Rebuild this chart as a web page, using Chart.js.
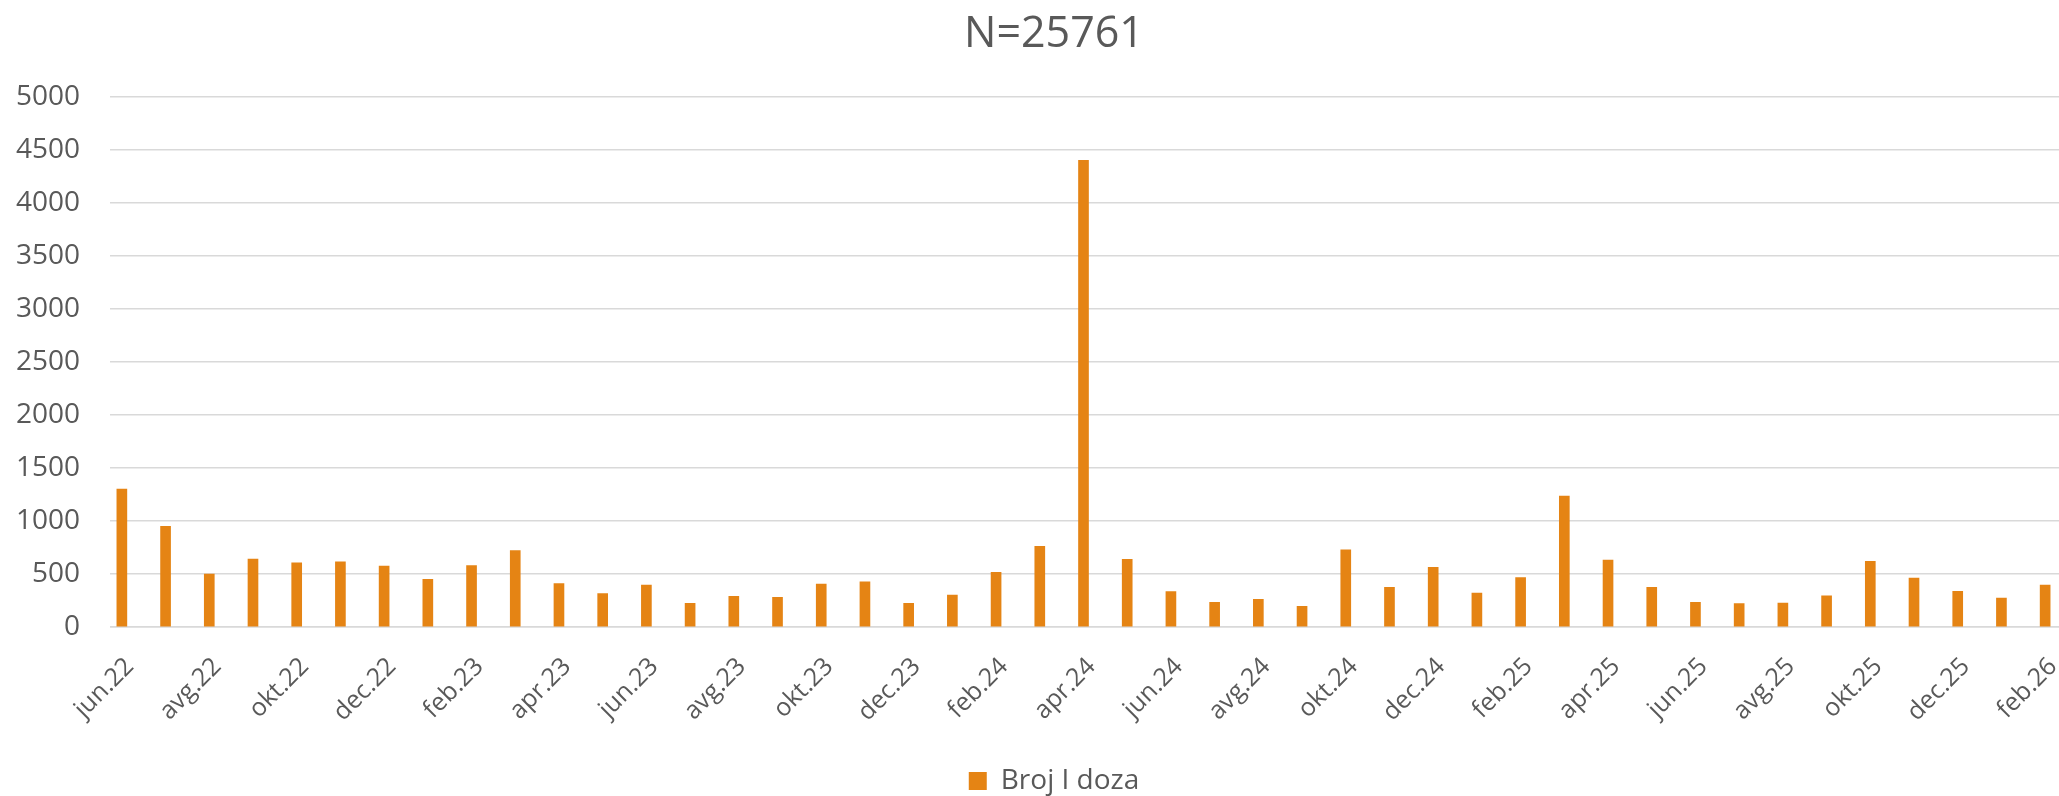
<!DOCTYPE html>
<html>
<head>
<meta charset="utf-8">
<script src="https://cdn.jsdelivr.net/npm/chart.js@4.4.1/dist/chart.umd.min.js"></script>
<style>
  html, body { margin: 0; padding: 0; background: #fff; overflow: hidden; }
  #wrap { width: 2108px; height: 805px; }
</style>
</head>
<body>
<div id="wrap"><canvas id="chart1" width="2108" height="805"></canvas></div>
<script>
// mjeseci jun.22 - feb.26
const months = [
  "jun.22", "jul.22", "avg.22", "sep.22", "okt.22", "nov.22", "dec.22",
  "jan.23", "feb.23", "mar.23", "apr.23", "maj.23", "jun.23", "jul.23", "avg.23", "sep.23", "okt.23", "nov.23", "dec.23",
  "jan.24", "feb.24", "mar.24", "apr.24", "maj.24", "jun.24", "jul.24", "avg.24", "sep.24", "okt.24", "nov.24", "dec.24",
  "jan.25", "feb.25", "mar.25", "apr.25", "maj.25", "jun.25", "jul.25", "avg.25", "sep.25", "okt.25", "nov.25", "dec.25",
  "jan.26", "feb.26"
];
const prvaDoza = [
  1300, 950, 500, 640, 605, 615, 575,
  450, 580, 720, 410, 315, 395, 222, 290, 280, 405, 425, 222,
  300, 515, 760, 4400, 637, 335, 232, 260, 195, 728, 375, 563,
  320, 465, 1235, 630, 375, 232, 220, 226, 293, 620, 462, 337,
  273, 395
];
const yTicks = [0, 500, 1000, 1500, 2000, 2500, 3000, 3500, 4000, 4500, 5000];

const textColor = "#595959";
const gridColor = "#D9D9D9";
const barColor = "#E58414";

// Excel grid starts a bit right of the first category slot
const gridStart = {
  id: "gridStart",
  beforeDatasetsDraw(chart) {
    const a = chart.chartArea;
    const ctx = chart.ctx;
    ctx.save();
    ctx.fillStyle = "#fff";
    ctx.fillRect(a.left - 1, a.top - 3, 11, a.bottom - a.top + 6);
    ctx.restore();
  }
};

document.addEventListener("DOMContentLoaded", function () {
  const ctx = document.getElementById("chart1").getContext("2d");
  new Chart(ctx, {
    type: "bar",
    data: {
      labels: months,
      datasets: [{
        label: "Broj I doza",
        data: prvaDoza,
        backgroundColor: barColor,
        borderWidth: 0,
        barThickness: 10
      }]
    },
    options: {
      responsive: false,
      animation: false,
      layout: { padding: 0 },
      plugins: {
        title: {
          display: true,
          text: "N=25761",
          color: textColor,
          font: { family: "Open Sans", size: 43, weight: "normal" },
          padding: { top: 9, bottom: 36 }
        },
        legend: {
          position: "bottom",
          labels: {
            color: textColor,
            font: { family: "Open Sans", size: 28 },
            boxWidth: 18,
            boxHeight: 18,
            padding: 10
          }
        },
        tooltip: { enabled: false }
      },
      scales: {
        x: {
          offset: true,
          grid: { display: false, drawTicks: false },
          border: { color: gridColor, width: 1.5 },
          afterFit(scale) { scale.height = 130; },
          ticks: {
            autoSkip: false,
            minRotation: 45,
            maxRotation: 45,
            padding: 25,
            labelOffset: 8,
            color: textColor,
            font: { family: "Open Sans", size: 25 },
            callback: function (val, i) { return i % 2 === 0 ? months[i] : ""; }
          }
        },
        y: {
          min: 0,
          max: 5000,
          afterFit(scale) { scale.width = 100; },
          afterBuildTicks(scale) { scale.ticks = yTicks.map(v => ({ value: v })); },
          grid: { color: gridColor, lineWidth: 1.5, drawTicks: false },
          border: { display: false },
          ticks: {
            padding: 20,
            color: textColor,
            font: { family: "Open Sans", size: 28 },
            callback: function (v) { return String(v); }
          }
        },
        // empty strip on the right, so the title sits where Excel put it
        y2: {
          position: "right",
          afterFit(scale) { scale.width = 41; },
          grid: { drawOnChartArea: false, drawTicks: false },
          border: { display: false },
          ticks: { display: false }
        }
      }
    },
    plugins: [gridStart]
  });
});
</script>
</body>
</html>
